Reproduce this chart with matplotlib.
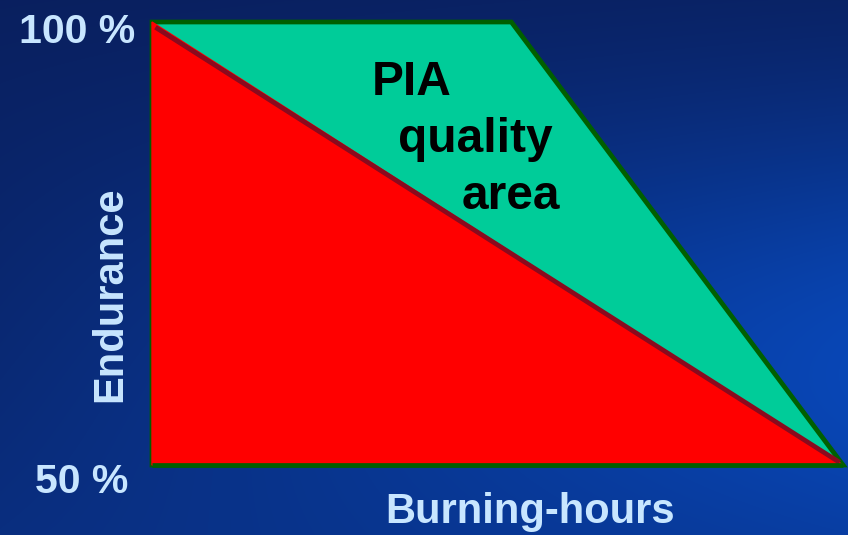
import numpy as np
import matplotlib
matplotlib.use("Agg")
import matplotlib.pyplot as plt

# Data (arbitrary burning-hour units, endurance in %)
hours_area = [0, 52, 100, 0]          # PIA quality area outline
endurance_area = [100, 100, 50, 50]
hours_min = [0, 100, 0]               # red minimum region
endurance_min = [100, 50, 50]
y_ticks = [50, 100]
y_ticklabels = ["50 %", "100 %"]
area_lines = ["PIA", "quality", "area"]

W, H = 848, 535
fig = plt.figure(figsize=(W / 100, H / 100), dpi=100)

# background gradient
bg = fig.add_axes([0, 0, 1, 1])
bg.set_axis_off()
yy, xx = np.mgrid[0:1:H * 1j, 0:1:W * 1j]
t = 0.12 + 0.3 * yy + 0.6 * xx * np.exp(-((yy - 0.65) / 0.45) ** 2)
t = np.clip(t, 0, 1)[..., None]
c0 = np.array([10, 26, 82]) / 255
c1 = np.array([8, 74, 190]) / 255
img = c0 + (c1 - c0) * t
bg.imshow(img, aspect="auto", extent=[0, 1, 0, 1], origin="upper")
bg.set_xlim(0, 1)
bg.set_ylim(0, 1)

left, right = 152 / W, 843 / W
bottom, top = 1 - 465 / H, 1 - 22 / H
ax = fig.add_axes([left, bottom, right - left, top - bottom])
ax.set_xlim(0, 100)
ax.set_ylim(50, 100)
ax.patch.set_alpha(0)
for s in ax.spines.values():
    s.set_visible(False)
ax.set_xticks([])
ax.set_yticks([])

ax.fill(hours_area, endurance_area, facecolor="#00cc99", edgecolor="#005f00",
        linewidth=3.4, joinstyle="miter", clip_on=False, zorder=2)
ax.fill(hours_min, endurance_min, facecolor="#ff0000", edgecolor="#ff0000",
        linewidth=1, clip_on=False, zorder=3)
ax.plot([hours_min[0] + 0.5, hours_min[1] - 0.5],
        [endurance_min[0] - 0.6, endurance_min[1] + 0.3],
        color="#8a0a1e", linewidth=3.4, solid_capstyle="butt", clip_on=False, zorder=4)
ax.plot([hours_area[3], hours_area[2]], [endurance_area[3], endurance_area[2]],
        color="#005f00", linewidth=3.4, solid_capstyle="butt", clip_on=False, zorder=5)

txtc = "#c8e6ff"
# tick labels (offsets in pixels -> points: px * 0.72)
offsets = {50: (-24, -28), 100: (-17, -21)}
for val, lab in zip(y_ticks, y_ticklabels):
    dx, dy = offsets[val]
    ax.annotate(lab, xy=(0, val), xycoords="data",
                xytext=(dx * 0.72, dy * 0.72), textcoords="offset points",
                ha="right", va="baseline", fontsize=29.5, fontweight="bold",
                color=txtc, family="Liberation Sans", annotation_clip=False)

fig.text(110 / W, 1 - 294 / H, "Endurance", rotation=90, ha="center", va="center",
         fontsize=30, fontweight="bold", color=txtc, family="Liberation Sans")
fig.text(530 / W, 1 - 523 / H, "Burning-hours", ha="center", va="baseline",
         fontsize=30, fontweight="bold", color=txtc, family="Liberation Sans")

pos = [(372, 95), (398, 152), (462, 209)]
for s, (px, py) in zip(area_lines, pos):
    fig.text(px / W, 1 - py / H, s, ha="left", va="baseline", fontsize=34.5,
             fontweight="bold", color="black", family="Liberation Sans", zorder=10)

fig.savefig("out.png", dpi=100)
